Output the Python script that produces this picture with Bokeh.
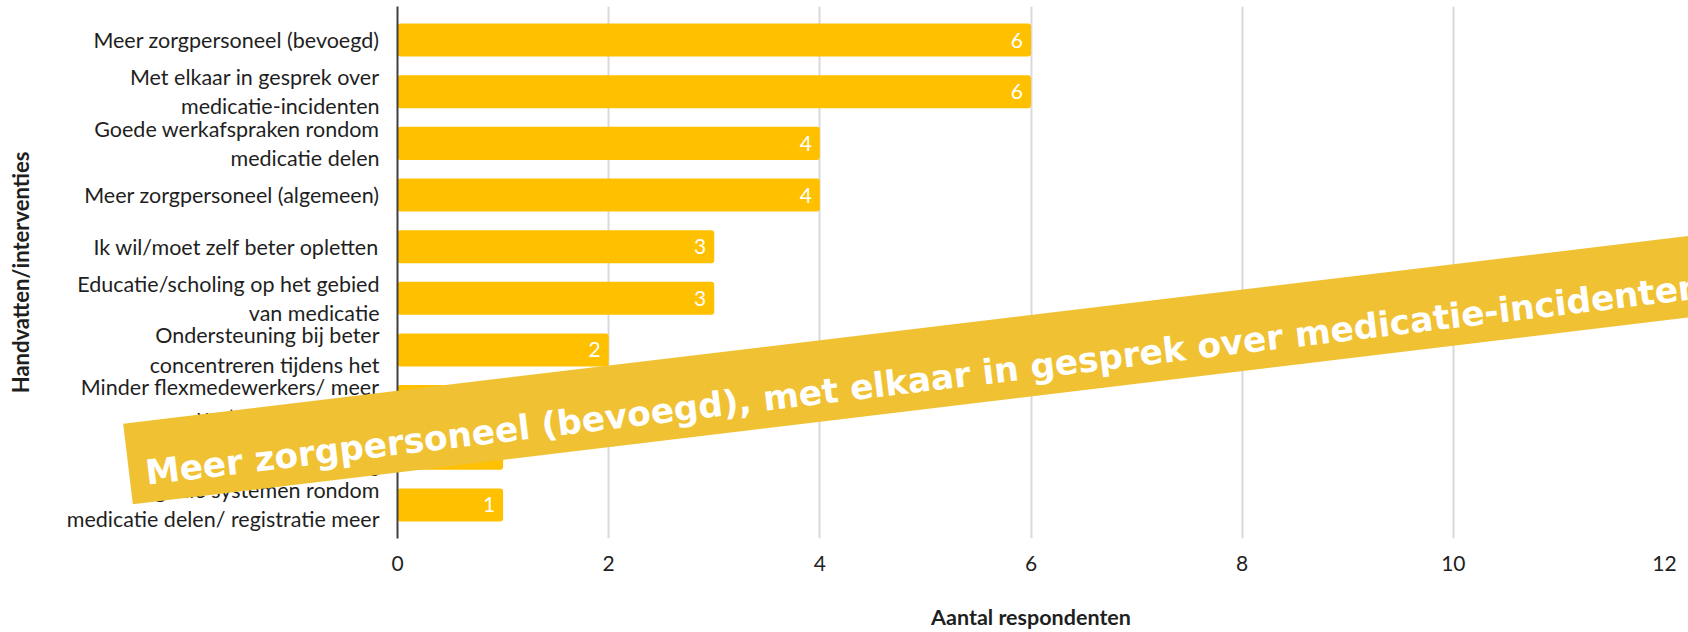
from bokeh.plotting import figure
from bokeh.models import FactorRange, Range1d, FixedTicker, ColumnDataSource
from bokeh.core.properties import value
from bokeh.embed import file_html
from bokeh.resources import INLINE
import math

# ---- data (top to bottom) ----
categories = [
    "Meer zorgpersoneel (bevoegd)",
    "Met elkaar in gesprek over\nmedicatie-incidenten",
    "Goede werkafspraken rondom\nmedicatie delen",
    "Meer zorgpersoneel (algemeen)",
    "Ik wil/moet zelf beter opletten",
    "Educatie/scholing op het gebied\nvan medicatie",
    "Ondersteuning bij beter\nconcentreren tijdens het",
    "Minder flexmedewerkers/ meer\nvaste medewerkers",
    "Betere samenwerking/\ncommunicatie",
    "Digitale systemen rondom\nmedicatie delen/ registratie meer",
]
counts = [6, 6, 4, 4, 3, 3, 2, 1, 1, 1]
x_ticks = [0, 2, 4, 6, 8, 10, 12]
x_title = "Aantal respondenten"
y_title = "Handvatten/interventies"
banner_text = "Meer zorgpersoneel (bevoegd), met elkaar in gesprek over medicatie-incidenten"

# ---- layout (canvas pixels) ----
W, H = 1688, 632
FL, FR, FT, FB = 397, 1664, 6, 538          # frame edges
XMIN, XMAX = 0, 12
PAD = 0.15                                   # category padding each side
n_cat = len(categories)

p = figure(
    width=W, height=H, output_backend="svg", toolbar_location=None,
    y_range=FactorRange(factors=categories[::-1], range_padding=PAD,
                        range_padding_units="absolute"),
    x_range=Range1d(XMIN, XMAX),
    min_border_left=FL, min_border_right=W - FR,
    min_border_top=FT, min_border_bottom=H - FB,
)
p.outline_line_color = None
p.background_fill_color = "white"
p.border_fill_color = "white"

src = ColumnDataSource(dict(cat=categories, n=counts, lbl=[str(c) for c in counts]))
p.hbar(y="cat", left=0, right="n", height=0.64, source=src,
       fill_color="#FFC000", line_color=None, border_radius=3)
p.text(x="n", y="cat", text="lbl", source=src, x_offset=-8,
       text_align="right", text_baseline="middle", text_color="white",
       text_font=value("Lato"), text_font_size="21px")

xa = p.xaxis[0]
xa.ticker = FixedTicker(ticks=x_ticks)
xa.axis_line_color = None
xa.major_tick_line_color = None
xa.minor_tick_line_color = None
xa.major_label_text_font = "Lato"
xa.major_label_text_font_size = "21px"
xa.major_label_text_color = "#1F1F1F"
xa.major_label_standoff = 11
xa.axis_label = x_title
xa.axis_label_text_font = "Lato"
xa.axis_label_text_font_style = "bold"
xa.axis_label_text_font_size = "21.5px"
xa.axis_label_text_color = "#1F1F1F"
xa.axis_label_standoff = 30

ya = p.yaxis[0]
ya.axis_line_color = "#404040"
ya.axis_line_width = 2
ya.major_tick_line_color = None
ya.minor_tick_line_color = None
ya.major_label_text_font = "Lato"
ya.major_label_text_font_size = "21.5px"
ya.major_label_text_color = "#1F1F1F"
ya.major_label_text_line_height = 1.12
ya.major_label_standoff = 12
ya.axis_label = y_title
ya.axis_label_text_font = "Lato"
ya.axis_label_text_font_style = "bold"
ya.axis_label_text_font_size = "22px"
ya.axis_label_text_color = "#1F1F1F"
ya.axis_label_standoff = 30

p.xgrid.grid_line_color = "#D9D9D9"
p.xgrid.grid_line_width = 2
p.ygrid.grid_line_color = None

# ---- banner overlay (pixel geometry converted to data space) ----
spacing = (FB - FT) / (n_cat + 2 * PAD)
def dx(px):
    return XMIN + (px - FL) / (FR - FL) * (XMAX - XMIN)
def dy(py):
    return -PAD + (FB - py) / spacing

ang = math.atan(0.12)
left_mid = (127.5, 463.5)
length, thick = 1603, 81
cx = left_mid[0] + length / 2 * math.cos(ang)
cy = left_mid[1] - length / 2 * math.sin(ang)
p.rect(x=[dx(cx)], y=[dy(cy)], width=length, height=thick,
       width_units="screen", height_units="screen", angle=ang,
       fill_color="#F0C233", line_color=None, level="overlay")
p.text(x=[dx(145)], y=[dy(472.4)], text=[banner_text], angle=ang,
       text_align="left", text_baseline="alphabetic", text_color="white",
       text_font=value("DejaVu Sans"), text_font_style="bold",
       text_font_size="34.4px", level="overlay")

open("out.html", "w").write(file_html(p, INLINE))
